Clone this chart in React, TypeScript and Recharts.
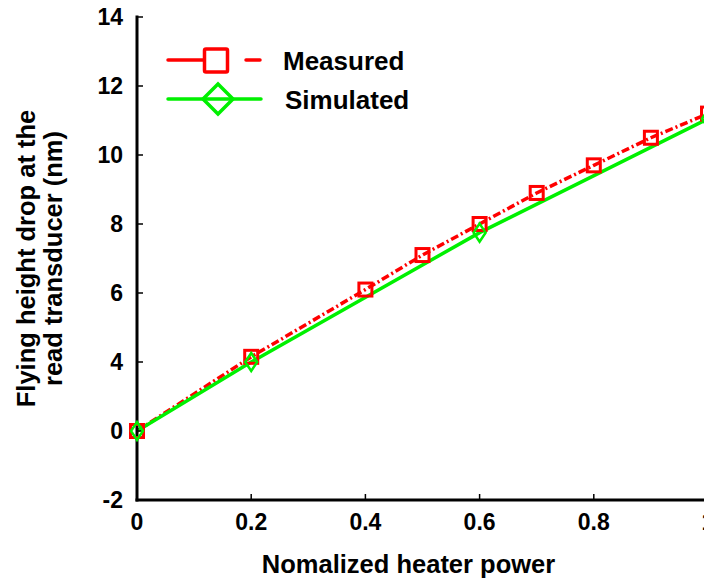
import { LineChart, Line, XAxis, YAxis, Legend } from 'recharts';

// heater power (normalised) and flying height drop (nm)
const measuredPower = [0, 0.2, 0.4, 0.5, 0.6, 0.7, 0.8, 0.9, 1];
const measuredDrop = [0, 4.15, 6.1, 7.1, 8.0, 8.9, 9.7, 10.5, 11.2];
const simulatedPower = [0, 0.2, 0.6, 1];
const simulatedDrop = [0, 4.0, 7.75, 11.05];

const xTicks = [0, 0.2, 0.4, 0.6, 0.8, 1];
// the original y axis skips "2": labels are evenly spaced but 0 -> 4 is one step
const yTickValues = [-2, 0, 4, 6, 8, 10, 12, 14];

const FONT = '"Liberation Sans", Arial, sans-serif';
const RED = '#ff0000';
const GREEN = '#00f000';

// map a value onto the evenly spaced tick slots (piecewise linear)
function toSlot(v: number) {
  const n = yTickValues.length;
  for (let i = 0; i < n - 1; i++) {
    const a = yTickValues[i];
    const b = yTickValues[i + 1];
    if (v <= b || i === n - 2) return i + (v - a) / (b - a);
  }
  return 0;
}

const measuredData = measuredPower.map((x, i) => ({ x, y: toSlot(measuredDrop[i]) }));
const simulatedData = simulatedPower.map((x, i) => ({ x, y: toSlot(simulatedDrop[i]) }));
const ySlots = yTickValues.map((_, i) => i);
const yDomain = [0, ySlots.length - 1];

const axisLine = { stroke: '#000', strokeWidth: 3, strokeLinecap: 'square' as const };
const tickLine = { stroke: '#000', strokeWidth: 1.5 };
const tickStyle = { fill: '#000', fontSize: 23, fontWeight: 'bold', fontFamily: FONT };

function SquareDot(props: any) {
  const { cx, cy } = props;
  if (cx == null || cy == null) return <g />;
  return (
    <rect x={cx - 6.5} y={cy - 6.5} width={13} height={13} fill="none" stroke={RED} strokeWidth={3} />
  );
}

function DiamondDot(props: any) {
  const { cx, cy } = props;
  if (cx == null || cy == null) return <g />;
  return (
    <path
      d={`M${cx} ${cy - 9}L${cx + 6} ${cy}L${cx} ${cy + 9}L${cx - 6} ${cy}Z`}
      fill="none"
      stroke={GREEN}
      strokeWidth={2.5}
    />
  );
}

function XTitle(props: any) {
  const vb = props.viewBox;
  return (
    <text
      x={vb.x + vb.width / 2 - 14}
      y={vb.y + 73}
      textAnchor="middle"
      fontSize={25.5}
      fontWeight="bold"
      fontFamily={FONT}
      fill="#000"
    >
      Nomalized heater power
    </text>
  );
}

function YTitle(props: any) {
  const vb = props.viewBox;
  const cy = vb.y + vb.height / 2;
  return (
    <text
      transform="rotate(-90)"
      textAnchor="middle"
      fontSize={25.5}
      fontWeight="bold"
      fontFamily={FONT}
      fill="#000"
    >
      <tspan x={-cy} y={35}>Flying height drop at the</tspan>
      <tspan x={-cy} y={62}>read transducer (nm)</tspan>
    </text>
  );
}

function LegendBox(props: any) {
  const payload = props.payload || [];
  return (
    <svg width={300} height={90} style={{ display: 'block' }}>
      {payload.map((entry: any, i: number) => {
        const y = 14 + i * 39;
        const measured = entry.value === 'Measured';
        return (
          <g key={entry.value}>
            {measured ? (
              <>
                <line x1={3} y1={y} x2={38} y2={y} stroke={RED} strokeWidth={3.5} strokeLinecap="round" />
                <line x1={81} y1={y} x2={95} y2={y} stroke={RED} strokeWidth={3.5} strokeLinecap="round" />
                <rect x={39.5} y={y - 11} width={23} height={23} rx={1.5} fill="none" stroke={RED} strokeWidth={3.5} />
              </>
            ) : (
              <>
                <line x1={3} y1={y} x2={96} y2={y} stroke={GREEN} strokeWidth={3.5} strokeLinecap="round" />
                <path
                  d={`M53 ${y - 15}L68 ${y}L53 ${y + 15}L38 ${y}Z`}
                  fill="none"
                  stroke={GREEN}
                  strokeWidth={3.5}
                />
              </>
            )}
            <text
              x={measured ? 118 : 120}
              y={y + 10}
              fontSize={26}
              fontWeight="bold"
              fontFamily={FONT}
              fill="#000"
            >
              {entry.value}
            </text>
          </g>
        );
      })}
    </svg>
  );
}

export default function App() {
  return (
    <div style={{ position: 'relative', top: -8, left: -8, width: 712, height: 581 }}>
      <LineChart width={712} height={581} margin={{ top: 17, right: 4, bottom: 0, left: 0 }}>
        <XAxis
          type="number"
          dataKey="x"
          domain={[0, 1]}
          ticks={xTicks}
          interval={0}
          height={81}
          axisLine={axisLine}
          tickLine={tickLine}
          tickSize={-6}
          tickMargin={20}
          tick={tickStyle}
          tickFormatter={(v: number) => String(v)}
          label={{ content: XTitle }}
        />
        <XAxis
          xAxisId="top"
          orientation="top"
          type="number"
          dataKey="x"
          domain={[0, 1]}
          ticks={xTicks}
          interval={0}
          height={0}
          axisLine={axisLine}
          tickLine={tickLine}
          tickSize={-6}
          tickFormatter={() => ''}
        />
        <YAxis
          type="number"
          dataKey="y"
          domain={yDomain}
          ticks={ySlots}
          interval={0}
          width={137}
          axisLine={axisLine}
          tickLine={tickLine}
          tickSize={-6}
          tickMargin={20}
          tick={tickStyle}
          tickFormatter={(i: number) => String(yTickValues[Math.round(i)])}
          label={{ content: YTitle }}
        />
        <YAxis
          yAxisId="right"
          orientation="right"
          type="number"
          dataKey="y"
          domain={yDomain}
          ticks={ySlots}
          interval={0}
          width={0}
          axisLine={axisLine}
          tickLine={tickLine}
          tickSize={-6}
          tickFormatter={() => ''}
        />
        <Legend
          layout="horizontal"
          verticalAlign="middle"
          align="center"
          content={LegendBox}
          wrapperStyle={{ left: 165, top: 46, width: 300, height: 90 }}
        />
        <Line
          data={measuredData}
          dataKey="y"
          name="Measured"
          stroke={RED}
          strokeWidth={3.5}
          strokeDasharray="8 3 2 3"
          dot={SquareDot}
          activeDot={false}
          isAnimationActive={false}
        />
        <Line
          data={simulatedData}
          xAxisId="top"
          yAxisId="right"
          dataKey="y"
          name="Simulated"
          stroke={GREEN}
          strokeWidth={3.5}
          dot={DiamondDot}
          activeDot={false}
          isAnimationActive={false}
        />
      </LineChart>
    </div>
  );
}
